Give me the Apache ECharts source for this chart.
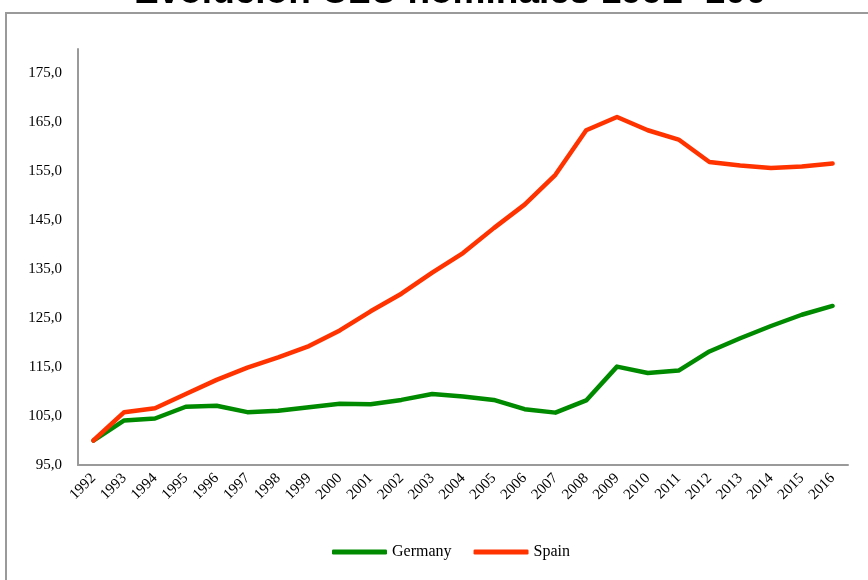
<!DOCTYPE html>
<html>
<head>
<meta charset="utf-8">
<script src="https://cdn.jsdelivr.net/npm/echarts@6/dist/echarts.min.js"></script>
<style>html,body{margin:0;padding:0;background:#fff}#c{width:868px;height:580px}</style>
</head>
<body>
<div id="c"></div>
<script>
var years = ['1992','1993','1994','1995','1996','1997','1998','1999','2000','2001','2002','2003','2004','2005','2006','2007','2008','2009','2010','2011','2012','2013','2014','2015','2016'];
var germany = [100.0,104.1,104.5,106.9,107.1,105.8,106.1,106.8,107.5,107.4,108.3,109.5,109.0,108.3,106.4,105.7,108.2,115.1,113.8,114.3,118.2,120.9,123.4,125.7,127.5];
var spain = [100.0,105.8,106.6,109.5,112.4,114.9,117.0,119.3,122.5,126.4,130.0,134.3,138.3,143.4,148.2,154.3,163.4,166.1,163.4,161.5,156.9,156.2,155.7,156.0,156.6];
var titleText = 'Evolución CLU nominales 1992=100';

var chart = echarts.init(document.getElementById('c'), null, {renderer: 'canvas'});
chart.setOption({
  animation: false,
  backgroundColor: '#fff',
  title: {
    text: titleText,
    left: 129,
    top: -31,
    textStyle: {fontFamily: 'Liberation Sans', fontWeight: 'bold', fontSize: 37, color: '#000'}
  },
  graphic: [{
    type: 'rect',
    shape: {x: 6, y: 13, width: 900, height: 600},
    style: {fill: 'none', stroke: '#9a9a9a', lineWidth: 2},
    silent: true,
    z: -1
  }],
  legend: {
    top: 539,
    left: 327,
    itemWidth: 55,
    itemHeight: 5,
    itemGap: 22,
    icon: 'roundRect',
    textStyle: {fontFamily: 'Liberation Serif', fontSize: 16, color: '#000'},
    data: ['Germany', 'Spain']
  },
  grid: {left: 78, right: 20, top: 49, bottom: 115, containLabel: false},
  xAxis: {
    type: 'category',
    data: years,
    boundaryGap: true,
    axisLine: {lineStyle: {color: '#9a9a9a', width: 2}},
    axisTick: {show: false},
    axisLabel: {rotate: 45, fontFamily: 'Liberation Serif', fontSize: 15, color: '#000', margin: 11, interval: 0}
  },
  yAxis: {
    type: 'value',
    min: 95,
    max: 180,
    interval: 10,
    axisLine: {show: true, lineStyle: {color: '#9a9a9a', width: 2}},
    axisTick: {show: false},
    splitLine: {show: false},
    axisLabel: {
      fontFamily: 'Liberation Serif', fontSize: 15, color: '#000', margin: 16,
      formatter: function (v) { return v > 175 ? '' : v.toFixed(1).replace('.', ','); }
    }
  },
  series: [
    {name: 'Germany', type: 'line', data: germany, symbol: 'none', lineStyle: {color: '#008a00', width: 4.5, cap: 'round', join: 'round'}, itemStyle: {color: '#008a00'}},
    {name: 'Spain', type: 'line', data: spain, symbol: 'none', lineStyle: {color: '#ff3300', width: 4.5, cap: 'round', join: 'round'}, itemStyle: {color: '#ff3300'}}
  ]
});
</script>
</body>
</html>
